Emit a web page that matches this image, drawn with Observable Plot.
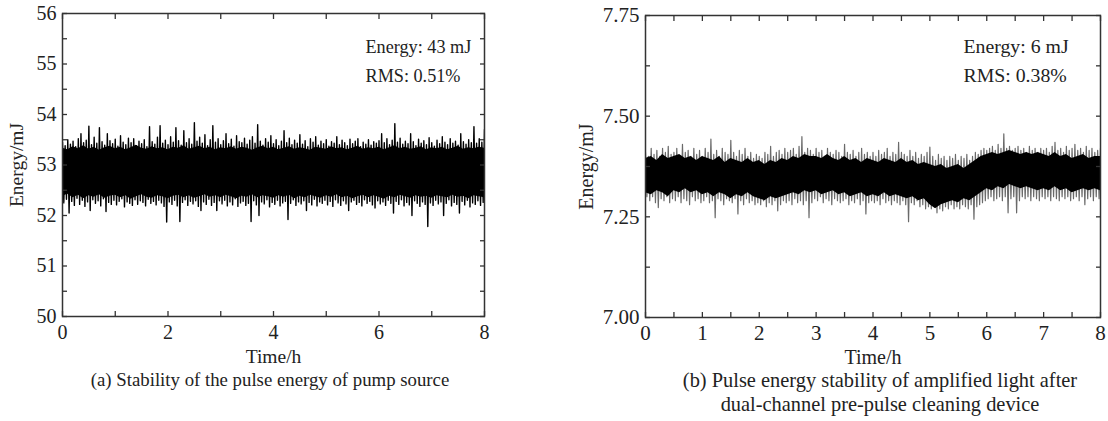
<!DOCTYPE html>
<html>
<head>
<meta charset="utf-8">
<script src="https://cdn.jsdelivr.net/npm/d3@7"></script>
<script src="https://cdn.jsdelivr.net/npm/@observablehq/plot@0.6"></script>
<style>
  html, body { margin: 0; padding: 0; background: #fff; }
  #wrap { position: relative; width: 1108px; height: 421px; font-family: "Liberation Serif", "Times New Roman", serif; color: #222; }
  .panel { position: absolute; top: 0; }
  .cap { position: absolute; line-height: 24px; text-align: center; color: #222; }
</style>
</head>
<body>
<div id="wrap">
  <div id="pa" class="panel" style="left:0px"></div>
  <div id="pb" class="panel" style="left:560px"></div>
  <div class="cap" style="left:0px; top:368px; width:540px; font-size:18.8px;">(a) Stability of the pulse energy of pump source</div>
  <div class="cap" style="left:640px; top:368px; width:480px; font-size:20.4px;">(b) Pulse energy stability of amplified light after<br>dual-channel pre-pulse cleaning device</div>
</div>
<script>
// ---------- Panel (a): pump source, envelope samples every 0.05 h ----------
const aStep = 0.05;
const aHigh = [
  53.45,53.38,53.50,53.41,53.47,53.36,53.52,53.62,53.44,53.49,
  53.77,53.40,53.55,53.43,53.74,53.46,53.39,53.62,53.48,53.42,
  53.51,53.37,53.58,53.45,53.40,53.53,53.44,53.52,53.38,53.47,
  53.42,53.50,53.36,53.76,53.46,53.41,53.55,53.78,53.43,53.49,
  53.40,53.56,53.45,53.74,53.48,53.39,53.68,53.44,53.52,53.41,
  53.84,53.47,53.55,53.43,53.60,53.38,53.50,53.78,53.45,53.52,
  53.40,53.48,53.62,53.42,53.51,53.37,53.58,53.46,53.44,53.53,
  53.41,53.49,53.56,53.43,53.80,53.47,53.39,53.52,53.45,53.58,
  53.42,53.50,53.38,53.47,53.68,53.44,53.53,53.40,53.49,53.43,
  53.60,53.41,53.48,53.36,53.52,53.45,53.56,53.39,53.47,53.42,
  53.50,53.37,53.46,53.43,53.56,53.40,53.49,53.44,53.38,53.51,
  53.42,53.47,53.52,53.36,53.45,53.41,53.50,53.39,53.46,53.43,
  53.48,53.62,53.44,53.52,53.40,53.49,53.82,53.45,53.53,53.41,
  53.47,53.42,53.62,53.46,53.38,53.51,53.43,53.48,53.40,53.54,
  53.44,53.37,53.49,53.42,53.56,53.45,53.40,53.52,53.43,53.47,
  53.39,53.62,53.46,53.41,53.50,53.44,53.76,53.43,53.52,53.45,
  53.70
];
const aLow = [
  52.25,52.32,52.05,52.28,52.20,52.34,52.22,52.30,52.18,52.27,
  52.10,52.31,52.24,52.29,52.19,52.33,52.08,52.26,52.22,52.30,
  52.21,52.28,52.33,52.17,52.27,52.24,52.20,52.31,52.22,52.29,
  52.26,52.19,52.32,52.24,52.28,52.21,52.30,52.25,52.18,51.87,
  52.27,52.22,52.30,52.19,51.88,52.26,52.31,52.20,52.28,52.23,
  52.29,52.18,52.10,52.27,52.22,52.32,52.20,52.26,52.10,52.29,
  52.23,52.30,52.19,52.27,52.21,52.33,52.18,52.25,52.28,52.20,
  52.24,51.88,52.29,52.21,52.00,52.27,52.23,52.31,52.17,52.26,
  52.22,52.30,52.19,52.25,52.28,51.92,52.24,52.31,52.20,52.27,
  52.23,52.29,52.10,52.26,52.21,52.32,52.19,52.27,52.24,52.30,
  52.21,52.28,52.18,52.31,52.25,52.20,52.29,52.23,52.10,52.27,
  52.30,52.22,52.26,52.19,52.31,52.24,52.28,52.21,52.15,52.29,
  52.23,52.27,52.20,52.30,52.24,52.05,52.28,52.22,52.31,52.19,
  52.26,52.21,52.00,52.29,52.24,52.18,52.27,52.22,51.78,52.25,
  52.20,52.30,52.23,52.27,52.00,52.24,52.31,52.19,52.26,52.22,
  52.05,52.28,52.21,52.30,52.17,52.25,52.22,52.29,52.20,52.26,
  51.90
];
// dense (solid) core of panel (a), every 0.1 h
const coreStep = 0.1;
const aCoreTop = [
  53.33,53.30,53.36,53.32,53.38,53.31,53.35,53.29,53.34,53.37,
  53.32,53.35,53.30,53.34,53.39,53.33,53.31,53.36,53.32,53.34,
  53.30,53.35,53.33,53.38,53.31,53.34,53.37,53.32,53.35,53.30,
  53.34,53.32,53.36,53.31,53.35,53.33,53.29,53.34,53.37,53.32,
  53.35,53.30,53.33,53.36,53.31,53.34,53.32,53.29,53.35,53.33,
  53.31,53.36,53.32,53.34,53.30,53.33,53.37,53.31,53.34,53.32,
  53.35,53.30,53.34,53.38,53.32,53.35,53.31,53.33,53.36,53.30,
  53.34,53.32,53.35,53.30,53.33,53.37,53.31,53.34,53.32,53.35,
  53.33
];
const aCoreBot = [
  52.38,52.42,52.35,52.40,52.33,52.39,52.36,52.41,52.34,52.38,
  52.40,52.35,52.39,52.32,52.37,52.41,52.36,52.34,52.39,52.37,
  52.33,52.38,52.40,52.35,52.39,52.34,52.37,52.41,52.36,52.39,
  52.35,52.40,52.37,52.33,52.38,52.36,52.41,52.35,52.39,52.37,
  52.34,52.39,52.36,52.40,52.33,52.38,52.35,52.40,52.37,52.34,
  52.39,52.36,52.41,52.35,52.38,52.33,52.37,52.40,52.35,52.39,
  52.36,52.32,52.38,52.35,52.40,52.37,52.34,52.39,52.36,52.38,
  52.34,52.39,52.37,52.35,52.40,52.36,52.38,52.33,52.39,52.37,
  52.35
];

// ---------- Panel (b): amplified light, envelope samples every 0.05 h ----------
const bStep = 0.05;
const bHigh = [
  7.41,7.40,7.42,7.405,7.415,7.40,7.42,7.41,7.425,7.405,
  7.41,7.42,7.40,7.43,7.41,7.415,7.40,7.42,7.405,7.415,
  7.40,7.42,7.41,7.443,7.405,7.415,7.40,7.42,7.41,7.405,
  7.44,7.41,7.40,7.415,7.405,7.42,7.40,7.41,7.395,7.405,
  7.40,7.395,7.41,7.405,7.425,7.40,7.41,7.415,7.405,7.42,
  7.41,7.415,7.42,7.405,7.425,7.449,7.41,7.42,7.415,7.405,
  7.42,7.41,7.415,7.40,7.42,7.41,7.405,7.415,7.41,7.40,
  7.43,7.41,7.405,7.415,7.40,7.41,7.42,7.405,7.41,7.40,
  7.41,7.40,7.415,7.405,7.41,7.42,7.40,7.41,7.405,7.435,
  7.41,7.405,7.40,7.415,7.40,7.41,7.395,7.405,7.40,7.41,
  7.423,7.40,7.39,7.405,7.395,7.40,7.39,7.40,7.395,7.405,
  7.39,7.40,7.395,7.405,7.39,7.40,7.41,7.405,7.415,7.42,
  7.415,7.42,7.425,7.415,7.43,7.42,7.456,7.42,7.425,7.415,
  7.42,7.425,7.415,7.42,7.41,7.425,7.415,7.42,7.41,7.42,
  7.415,7.42,7.41,7.425,7.435,7.415,7.42,7.41,7.425,7.415,
  7.42,7.43,7.415,7.42,7.41,7.425,7.415,7.42,7.41,7.415,
  7.42
];
const bLow = [
  7.30,7.29,7.30,7.285,7.273,7.295,7.29,7.30,7.285,7.295,
  7.29,7.30,7.285,7.295,7.29,7.28,7.30,7.29,7.295,7.285,
  7.29,7.30,7.285,7.29,7.248,7.295,7.29,7.28,7.295,7.29,
  7.285,7.295,7.257,7.29,7.28,7.295,7.285,7.29,7.28,7.285,
  7.28,7.29,7.275,7.285,7.28,7.29,7.265,7.28,7.29,7.285,
  7.29,7.28,7.295,7.285,7.29,7.28,7.29,7.248,7.285,7.295,
  7.29,7.30,7.285,7.295,7.29,7.28,7.295,7.29,7.285,7.29,
  7.295,7.28,7.29,7.285,7.295,7.28,7.29,7.257,7.285,7.29,
  7.285,7.29,7.28,7.295,7.285,7.29,7.28,7.29,7.285,7.28,
  7.29,7.28,7.238,7.285,7.28,7.29,7.275,7.28,7.27,7.275,
  7.27,7.275,7.26,7.27,7.265,7.275,7.27,7.28,7.27,7.275,
  7.27,7.28,7.275,7.27,7.28,7.244,7.275,7.28,7.285,7.29,
  7.295,7.30,7.29,7.295,7.30,7.29,7.30,7.26,7.295,7.30,
  7.26,7.29,7.30,7.295,7.30,7.29,7.30,7.295,7.29,7.30,
  7.295,7.30,7.29,7.30,7.295,7.29,7.30,7.295,7.30,7.29,
  7.295,7.30,7.29,7.30,7.28,7.295,7.30,7.29,7.30,7.295,
  7.30
];
// dense (dark) core of panel (b), every 0.1 h
const bCoreTop = [
  7.395,7.40,7.39,7.405,7.395,7.40,7.405,7.395,7.40,7.39,
  7.40,7.395,7.39,7.40,7.385,7.395,7.39,7.385,7.395,7.385,
  7.39,7.38,7.39,7.385,7.395,7.39,7.40,7.395,7.405,7.40,
  7.40,7.395,7.405,7.395,7.39,7.40,7.39,7.395,7.385,7.395,
  7.39,7.385,7.395,7.39,7.385,7.395,7.385,7.39,7.38,7.385,
  7.38,7.375,7.38,7.37,7.375,7.38,7.37,7.38,7.39,7.40,
  7.405,7.41,7.405,7.41,7.415,7.41,7.405,7.41,7.405,7.41,
  7.405,7.40,7.41,7.40,7.405,7.395,7.40,7.405,7.395,7.40,
  7.40
];
const bCoreBot = [
  7.31,7.305,7.315,7.31,7.30,7.315,7.31,7.32,7.31,7.315,
  7.305,7.31,7.30,7.31,7.305,7.295,7.305,7.30,7.31,7.30,
  7.295,7.29,7.30,7.295,7.30,7.305,7.31,7.305,7.315,7.31,
  7.315,7.305,7.31,7.315,7.305,7.31,7.30,7.305,7.31,7.30,
  7.305,7.30,7.31,7.30,7.305,7.30,7.295,7.30,7.29,7.295,
  7.28,7.27,7.28,7.285,7.29,7.285,7.295,7.29,7.30,7.31,
  7.32,7.315,7.325,7.32,7.33,7.325,7.32,7.325,7.32,7.315,
  7.32,7.315,7.325,7.315,7.32,7.31,7.315,7.32,7.315,7.32,
  7.315
];

// ---------- axes ----------
const xDomain = [0, 8];
const aYDomain = [50, 56];
const bYDomain = [7.0, 7.75];
const aXLabels = [0, 2, 4, 6, 8];
const aXTicks = [0, 1, 2, 3, 4, 5, 6, 7, 8];
const aYLabels = [50, 51, 52, 53, 54, 55, 56];
const aYTicks = [50, 50.5, 51, 51.5, 52, 52.5, 53, 53.5, 54, 54.5, 55, 55.5, 56];
const bXLabels = [0, 1, 2, 3, 4, 5, 6, 7, 8];
const bXTicks = [0, 0.5, 1, 1.5, 2, 2.5, 3, 3.5, 4, 4.5, 5, 5.5, 6, 6.5, 7, 7.5, 8];
const bYLabels = [7.0, 7.25, 7.5, 7.75];
const bYTicks = [7.0, 7.125, 7.25, 7.375, 7.5, 7.625, 7.75];

const annA = ["Energy: 43 mJ", "RMS: 0.51%"];
const annB = ["Energy: 6 mJ", "RMS: 0.38%"];

// a dense trace: each sample goes up to its high value, then down to its low value
function trace(high, low, step) {
  const pts = [];
  high.forEach((h, i) => {
    pts.push({t: i * step, v: h});
    pts.push({t: i * step + step / 2, v: low[i]});
  });
  return pts;
}
function band(top, bot, step) {
  return top.map((h, i) => ({t: i * step, hi: h, lo: bot[i]}));
}

function panel(o) {
  const marks = [
    Plot.line(trace(o.high, o.low, o.step), {x: "t", y: "v", stroke: o.traceColor, strokeWidth: o.traceWidth, clip: true}),
    Plot.areaY(band(o.coreTop, o.coreBot, coreStep), {x: "t", y1: "lo", y2: "hi", fill: "#000", curve: "linear"}),
    Plot.frame({stroke: "#333", strokeWidth: 1.5}),
    Plot.axisX(o.xTicks, {anchor: "bottom", tickSize: -5, fill: "none", label: null, stroke: "#333", strokeWidth: 1.3}),
    Plot.axisX(o.xTicks, {anchor: "top", tickSize: -5, fill: "none", label: null, stroke: "#333", strokeWidth: 1.3}),
    Plot.axisY(o.yTicks, {anchor: "left", tickSize: -5, fill: "none", label: null, stroke: "#333", strokeWidth: 1.3}),
    Plot.axisY(o.yTicks, {anchor: "right", tickSize: -5, fill: "none", label: null, stroke: "#333", strokeWidth: 1.3}),
    Plot.axisX(o.xLabels, {anchor: "bottom", tickSize: 0, tickPadding: 8, fontSize: o.tickFont, fill: "#222",
      tickFormat: d => String(d), label: null}),
    Plot.axisX({anchor: "bottom", ticks: [], tickSize: 0, fontSize: o.labelFont, fill: "#222",
      label: "Time/h", labelAnchor: "center", labelArrow: "none", labelOffset: 46}),
    Plot.axisY(o.yLabels, {anchor: "left", tickSize: 0, tickPadding: 6, fontSize: o.tickFont, fill: "#222",
      tickFormat: o.yFormat, label: null}),
    Plot.axisY({anchor: "left", ticks: [], tickSize: 0, fontSize: o.labelFont, fill: "#222",
      label: "Energy/mJ", labelAnchor: "center", labelArrow: "none", labelOffset: o.yLabelOffset}),
    Plot.text([o.ann[0]], {frameAnchor: "top-right", textAnchor: "start", dx: o.annDx, dy: o.annDy[0], fontSize: o.annFont, fill: "#222"}),
    Plot.text([o.ann[1]], {frameAnchor: "top-right", textAnchor: "start", dx: o.annDx, dy: o.annDy[1], fontSize: o.annFont, fill: "#222"})
  ];
  return Plot.plot({
    width: o.width, height: 370,
    marginLeft: o.ml, marginRight: o.mr, marginTop: o.mt, marginBottom: 370 - o.bottom,
    style: {fontFamily: '"Liberation Serif", "Times New Roman", serif', fontSize: "19px", color: "#222", background: "#fff"},
    x: {domain: xDomain},
    y: {domain: o.yDomain},
    marks
  });
}

document.getElementById("pa").appendChild(panel({
  width: 540, ml: 62, mr: 56, mt: 13, bottom: 316,
  high: aHigh, low: aLow, step: aStep, traceColor: "#000", traceWidth: 1.4,
  coreTop: aCoreTop, coreBot: aCoreBot,
  yDomain: aYDomain, xTicks: aXTicks, yTicks: aYTicks, xLabels: aXLabels, yLabels: aYLabels,
  yFormat: d => String(d), yLabelOffset: 53, tickFont: 20, labelFont: 19.5, annFont: 18.2,
  ann: annA, annDx: -119, annDy: [27, 56]
}));

document.getElementById("pb").appendChild(panel({
  width: 548, ml: 85, mr: 8, mt: 15, bottom: 317,
  high: bHigh, low: bLow, step: bStep, traceColor: "#6a6a6a", traceWidth: 1.2,
  coreTop: bCoreTop, coreBot: bCoreBot,
  yDomain: bYDomain, xTicks: bXTicks, yTicks: bYTicks, xLabels: bXLabels, yLabels: bYLabels,
  yFormat: d3.format(".2f"), yLabelOffset: 67, tickFont: 21, labelFont: 20, annFont: 19.8,
  ann: annB, annDx: -137, annDy: [23, 52]
}));
</script>
</body>
</html>
